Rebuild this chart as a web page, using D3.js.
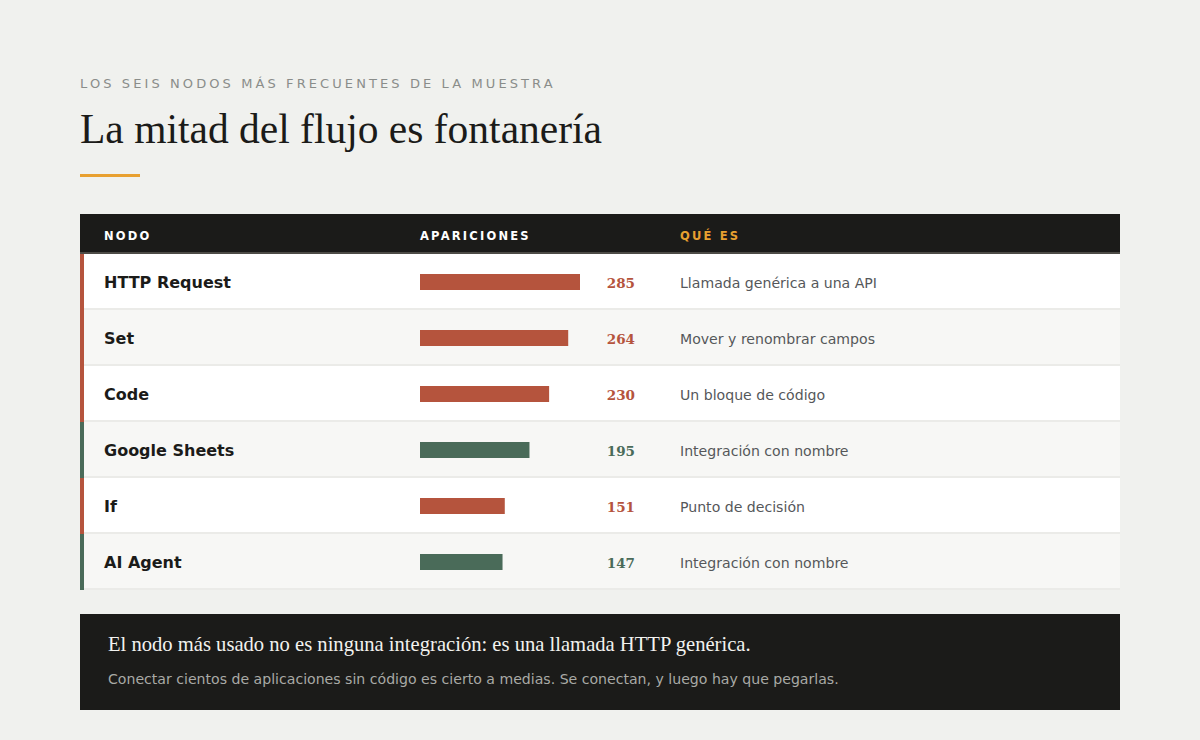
<!DOCTYPE html>
<html>
<head>
<meta charset="utf-8">
<script src="https://cdn.jsdelivr.net/npm/d3@7"></script>
<style>
  body { margin: 0; background: #f0f1ee; }
  svg { display: block; }
</style>
</head>
<body>
<div id="chart"></div>
<script>
// data
var nodes = ["HTTP Request", "Set", "Code", "Google Sheets", "If", "AI Agent"];
var counts = [285, 264, 230, 195, 151, 147];
var descriptions = [
  "Llamada genérica a una API",
  "Mover y renombrar campos",
  "Un bloque de código",
  "Integración con nombre",
  "Punto de decisión",
  "Integración con nombre"
];
var kinds = ["fontaneria", "fontaneria", "fontaneria", "integracion", "fontaneria", "integracion"];
var columns = ["NODO", "APARICIONES", "QUÉ ES"];

var svgWidth = 1200;
var svgHeight = 740;

var table = { left: 80, right: 1120, top: 214, headH: 40, rowH: 56 };

var data = nodes.map(function(n, i) {
  return { node: n, count: counts[i], desc: descriptions[i], kind: kinds[i], i: i };
});

var svg = d3.select("#chart")
  .append("svg")
  .attr("width", svgWidth)
  .attr("height", svgHeight);

svg.append("rect")
  .attr("width", svgWidth)
  .attr("height", svgHeight)
  .attr("fill", "#f0f1ee");

var sans = "'DejaVu Sans', Verdana, sans-serif";
var serif = "'DejaVu Serif', Georgia, serif";
var bookSerif = "'Liberation Serif', 'Times New Roman', serif";

// heading
svg.append("text")
  .attr("x", 80)
  .attr("y", 88)
  .style("font-family", sans)
  .style("font-size", "13px")
  .style("letter-spacing", "3.1px")
  .attr("fill", "#8a8d8a")
  .text("LOS SEIS NODOS MÁS FRECUENTES DE LA MUESTRA");

svg.append("text")
  .attr("x", 80)
  .attr("y", 143)
  .style("font-family", bookSerif)
  .style("font-size", "41.5px")
  .attr("fill", "#1b1b19")
  .text("La mitad del flujo es fontanería");

svg.append("rect")
  .attr("x", 80)
  .attr("y", 174)
  .attr("width", 60)
  .attr("height", 3)
  .attr("fill", "#e8a030");

// scales
var colour = d3.scaleOrdinal()
  .domain(["fontaneria", "integracion"])
  .range(["#b5543d", "#4a6b59"]);

var xScale = d3.scaleLinear()
  .domain([0, d3.max(counts)])
  .range([0, 160]);

var yScale = d3.scaleBand()
  .domain(d3.range(nodes.length))
  .range([table.top + table.headH, table.top + table.headH + table.rowH * nodes.length])
  .paddingInner(0);

var colX = d3.scaleOrdinal()
  .domain(columns)
  .range([104, 420, 680]);

// header row
svg.append("rect")
  .attr("x", table.left)
  .attr("y", table.top)
  .attr("width", table.right - table.left)
  .attr("height", table.headH)
  .attr("fill", "#1b1b19");

svg.selectAll(".colhead")
  .data(columns)
  .enter()
  .append("text")
  .attr("class", "colhead")
  .attr("x", d => colX(d))
  .attr("y", table.top + 26)
  .style("font-family", sans)
  .style("font-size", "11.5px")
  .style("font-weight", "bold")
  .style("letter-spacing", "2.2px")
  .attr("fill", (d, i) => i === 2 ? "#e8a030" : "#ffffff")
  .text(d => d);

svg.append("rect")
  .attr("x", table.left)
  .attr("y", table.top + table.headH - 2)
  .attr("width", table.right - table.left)
  .attr("height", 2)
  .attr("fill", "#4d4b46");

// rows
var rows = svg.selectAll(".row")
  .data(data)
  .enter()
  .append("g")
  .attr("class", "row")
  .attr("transform", d => `translate(0, ${yScale(d.i)})`);

rows.append("rect")
  .attr("x", table.left)
  .attr("y", 0)
  .attr("width", table.right - table.left)
  .attr("height", yScale.bandwidth())
  .attr("fill", d => d.i % 2 === 0 ? "#ffffff" : "#f7f7f5");

rows.append("rect")
  .attr("x", table.left)
  .attr("y", yScale.bandwidth() - 2)
  .attr("width", table.right - table.left)
  .attr("height", 2)
  .attr("fill", "#ebebe8");

rows.append("rect")
  .attr("x", table.left)
  .attr("y", 0)
  .attr("width", 4)
  .attr("height", yScale.bandwidth())
  .attr("fill", d => colour(d.kind));

rows.append("text")
  .attr("x", colX("NODO"))
  .attr("y", 34)
  .style("font-family", sans)
  .style("font-size", "16px")
  .style("font-weight", "bold")
  .attr("fill", "#1b1b19")
  .text(d => d.node);

rows.append("rect")
  .attr("x", colX("APARICIONES"))
  .attr("y", 20)
  .attr("width", d => xScale(d.count))
  .attr("height", 16)
  .attr("fill", d => colour(d.kind));

rows.append("text")
  .attr("x", 635)
  .attr("y", 34)
  .attr("text-anchor", "end")
  .style("font-family", serif)
  .style("font-size", "13.5px")
  .style("font-weight", "bold")
  .attr("fill", d => colour(d.kind))
  .text(d => d.count);

rows.append("text")
  .attr("x", colX("QUÉ ES"))
  .attr("y", 34)
  .style("font-family", sans)
  .style("font-size", "14.1px")
  .attr("fill", "#55575a")
  .text(d => d.desc);

// footer note
svg.append("rect")
  .attr("x", table.left)
  .attr("y", 614)
  .attr("width", table.right - table.left)
  .attr("height", 96)
  .attr("fill", "#1b1b19");

svg.append("text")
  .attr("x", 108)
  .attr("y", 651)
  .style("font-family", bookSerif)
  .style("font-size", "20.6px")
  .attr("fill", "#f2f2ef")
  .text("El nodo más usado no es ninguna integración: es una llamada HTTP genérica.");

svg.append("text")
  .attr("x", 108)
  .attr("y", 684)
  .style("font-family", sans)
  .style("font-size", "14.1px")
  .attr("fill", "#a9aaa6")
  .text("Conectar cientos de aplicaciones sin código es cierto a medias. Se conectan, y luego hay que pegarlas.");
</script>
</body>
</html>
